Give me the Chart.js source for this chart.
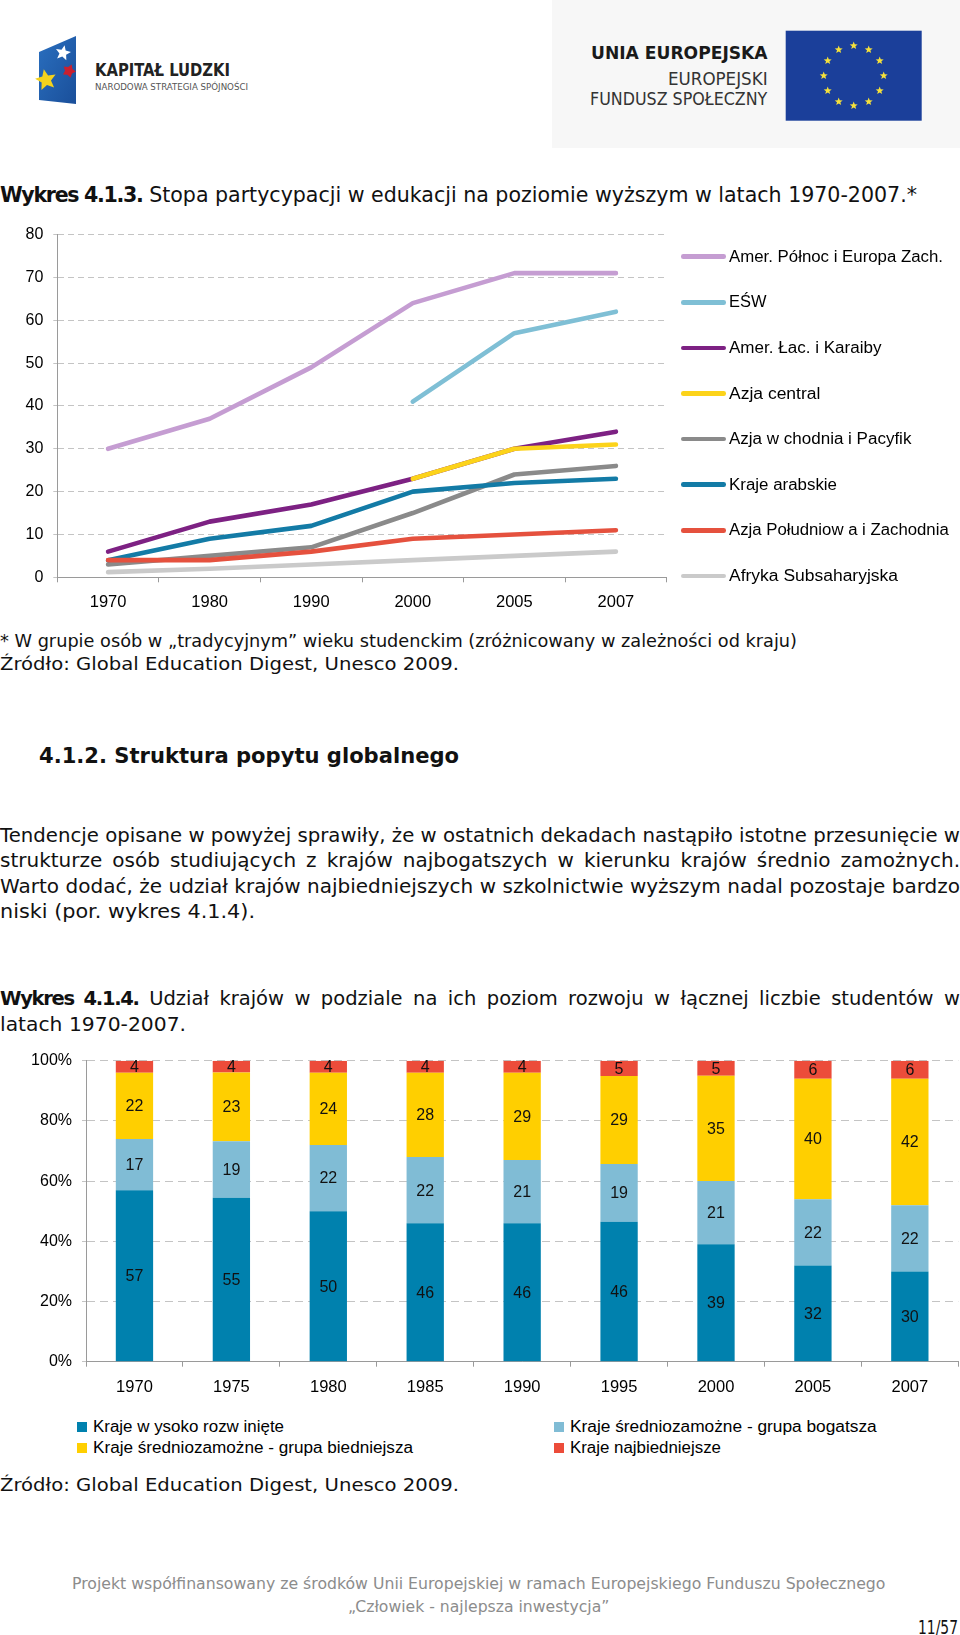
<!DOCTYPE html>
<html>
<head>
<meta charset="utf-8">
<script src="https://cdn.jsdelivr.net/npm/chart.js@4.4.1/dist/chart.umd.min.js"></script>
<style>
html,body{margin:0;padding:0;background:#fff;}
body{width:960px;height:1635px;position:relative;overflow:hidden;color:#111;}
.t{position:absolute;white-space:nowrap;font-family:"DejaVu Sans",sans-serif;}
.c{position:absolute;white-space:nowrap;font-family:"DejaVu Sans Condensed","DejaVu Sans",sans-serif;font-stretch:condensed;}
.a{position:absolute;white-space:nowrap;font-family:"Liberation Sans",Arial,sans-serif;}
b.n{letter-spacing:-1.3px;}
canvas{position:absolute;left:0;}
</style>
</head>
<body>
<svg id="logos" style="position:absolute;left:0;top:0" width="960" height="150"></svg>

<div class="c" data-w="135" style="left:95px;top:59px;line-height:22px;font-size:17px;font-weight:bold;color:#222;">KAPITAŁ LUDZKI</div>
<div class="c" data-w="153" style="left:95px;top:80px;line-height:14px;font-size:9.5px;color:#555;">NARODOWA STRATEGIA SPÓJNOŚCI</div>
<div class="c" data-w="176.6" style="left:590.7px;top:42px;line-height:22px;font-size:18px;font-weight:bold;color:#1a1a1a;">UNIA EUROPEJSKA</div>
<div class="c" data-w="99.6" style="left:667.7px;top:68px;line-height:22px;font-size:17px;color:#333;">EUROPEJSKI</div>
<div class="c" data-w="177.3" style="left:590px;top:88px;line-height:22px;font-size:17px;color:#333;">FUNDUSZ SPOŁECZNY</div>

<div class="t" data-w="917" style="left:0;top:183px;line-height:24px;font-size:20.5px;"><b class="n">Wykres 4.1.3.</b> Stopa partycypacji w edukacji na poziomie wyższym w latach 1970-2007.*</div>

<canvas id="c1" width="960" height="400" style="top:215px"></canvas>
<div id="leg1"></div>

<div class="t" data-w="797" style="left:0;top:630px;line-height:22px;font-size:17px;">* W grupie osób w „tradycyjnym” wieku studenckim (zróżnicowany w zależności od kraju)</div>
<div class="t" data-w="459" style="left:0;top:653px;line-height:22px;font-size:18px;">Źródło: Global Education Digest, Unesco 2009.</div>

<div class="t" data-w="420" style="left:38.6px;top:743px;line-height:26px;font-size:22px;font-weight:bold;">4.1.2. Struktura popytu globalnego</div>

<div class="t" data-w="960" data-j="1" style="left:0;top:823px;line-height:25px;font-size:20px;">Tendencje opisane w powyżej sprawiły, że w ostatnich dekadach nastąpiło istotne przesunięcie w</div>
<div class="t" data-w="960" data-j="1" style="left:0;top:848px;line-height:25px;font-size:20px;">strukturze osób studiujących z krajów najbogatszych w kierunku krajów średnio zamożnych.</div>
<div class="t" data-w="960" data-j="1" style="left:0;top:873.5px;line-height:25px;font-size:20px;">Warto dodać, że udział krajów najbiedniejszych w szkolnictwie wyższym nadal pozostaje bardzo</div>
<div class="t" data-w="255" style="left:0;top:899px;line-height:25px;font-size:20px;">niski (por. wykres 4.1.4).</div>

<div class="t" data-w="960" data-j="1" style="left:0;top:986px;line-height:25px;font-size:19.5px;"><b class="n">Wykres 4.1.4.</b> Udział krajów w podziale na ich poziom rozwoju w łącznej liczbie studentów w</div>
<div class="t" data-w="186" style="left:0;top:1012px;line-height:25px;font-size:19.5px;">latach 1970-2007.</div>

<canvas id="c2" width="960" height="370" style="top:1040px"></canvas>
<div id="leg2"></div>

<div class="t" data-w="459" style="left:0;top:1474px;line-height:22px;font-size:18px;">Źródło: Global Education Digest, Unesco 2009.</div>

<div class="t" data-w="813.4" style="left:72.2px;top:1574px;line-height:20px;font-size:15px;color:#8c8c8c;">Projekt współfinansowany ze środków Unii Europejskiej w ramach Europejskiego Funduszu Społecznego</div>
<div class="t" data-w="261.4" style="left:347.6px;top:1597px;line-height:20px;font-size:15px;color:#8c8c8c;">„Człowiek - najlepsza inwestycja”</div>
<div class="t" data-w="40" style="left:918px;top:1616px;line-height:22px;font-size:19px;">11/57</div>

<script>
// ---------- Chart 1 data ----------
const years1 = ['1970','1980','1990','2000','2005','2007'];
const amerPolnocEuropaZach = [30, 37, 49, 64, 71, 71];
const esw = [null, null, null, 41, 57, 62];
const amerLacKaraiby = [6, 13, 17, 23, 30, 34];
const azjaCentral = [null, null, null, 23, 30, 31];
const azjaWschPacyfik = [3, 5, 7, 15, 24, 26];
const krajeArabskie = [4, 9, 12, 20, 22, 23];
const azjaPoludZach = [4, 4, 6, 9, 10, 11];
const afrykaSubsah = [1.2, 2, 3, 4, 5, 6];
const lineLabels = ['Amer. Północ i Europa Zach.', 'EŚW', 'Amer. Łac. i Karaiby', 'Azja central',
  'Azja w chodnia i Pacyfik', 'Kraje arabskie', 'Azja Południow a i Zachodnia', 'Afryka Subsaharyjska'];
const lineSeries = [amerPolnocEuropaZach, esw, amerLacKaraiby, azjaCentral, azjaWschPacyfik, krajeArabskie, azjaPoludZach, afrykaSubsah];
const lineColors = ['#C59DD2', '#7FBFD5', '#7D2183', '#FCD31A', '#8A8A8A', '#137BA6', '#E5513E', '#CACACA'];

// ---------- Chart 2 data ----------
const years2 = ['1970','1975','1980','1985','1990','1995','2000','2005','2007'];
const wysokoRozwiniete = [57, 55, 50, 46, 46, 46, 39, 32, 30];
const sredniBogatsza = [17, 19, 22, 22, 21, 19, 21, 22, 22];
const sredniBiedniejsza = [22, 23, 24, 28, 29, 29, 35, 40, 42];
const najbiedniejsze = [4, 4, 4, 4, 4, 5, 5, 6, 6];
const barLabels = ['Kraje w ysoko rozw inięte', 'Kraje średniozamożne - grupa bogatsza',
  'Kraje średniozamożne - grupa biedniejsza', 'Kraje najbiedniejsze'];
const barSeries = [wysokoRozwiniete, sredniBogatsza, sredniBiedniejsza, najbiedniejsze];
const barColors = ['#0081AE', '#80BCD5', '#FFCF00', '#EC4C3A'];

Chart.defaults.font.family = '"Liberation Sans", Arial, sans-serif';
Chart.defaults.font.size = 16;
Chart.defaults.color = '#000';
Chart.defaults.animation = false;

// ---------- Chart 1 ----------
new Chart(document.getElementById('c1'), {
  type: 'line',
  data: {
    labels: years1,
    datasets: lineSeries.map((d, i) => ({
      label: lineLabels[i], data: d,
      borderColor: lineColors[i], backgroundColor: lineColors[i],
      borderWidth: 4.6, pointRadius: 0, pointHoverRadius: 0,
      borderCapStyle: 'round', borderJoinStyle: 'round', tension: 0, spanGaps: false,
      order: lineSeries.length - 1 - i
    }))
  },
  options: {
    responsive: false, animation: false,
    layout: { padding: { left: 0, right: 293.3, top: 17.3, bottom: 0 } },
    plugins: { legend: { display: false }, tooltip: { enabled: false } },
    scales: {
      x: {
        offset: true,
        grid: { offset: true, drawOnChartArea: false, tickLength: 5, color: '#9a9a9a' },
        border: { color: '#9a9a9a' },
        ticks: { padding: 10, font: { size: 16.5 }, maxRotation: 0, autoSkip: false },
        afterFit(s) { s.height = 37.7; }
      },
      y: {
        min: 0, max: 80,
        ticks: { stepSize: 10, padding: 10 },
        grid: { color: '#c4c4c4', tickLength: 4, tickBorderDash: [] },
        border: { color: '#9a9a9a', dash: [6, 4] },
        afterFit(s) { s.width = 57.3; }
      }
    }
  }
});

// legend 1 (HTML)
(function () {
  const box = document.getElementById('leg1');
  const rightEnds = [943.3, 766.7, 881.7, 820.7, 911.7, 837.3, 949, 898.3];
  lineLabels.forEach((lab, i) => {
    const cy = 256.7 + i * 45.6;
    const ln = document.createElement('div');
    ln.style.cssText = `position:absolute;left:680.7px;top:${cy - 2.3}px;width:45px;height:4.6px;border-radius:2.3px;background:${lineColors[i]};`;
    box.appendChild(ln);
    const tx = document.createElement('div');
    tx.className = 'a';
    tx.dataset.w = rightEnds[i] - 729.3;
    tx.style.cssText += `left:729.3px;top:${cy - 10}px;line-height:20px;font-size:16px;color:#000;`;
    tx.textContent = lab;
    box.appendChild(tx);
  });
})();

// ---------- Chart 2 ----------
const totals2 = years2.map((_, i) => barSeries.reduce((s, arr) => s + arr[i], 0));
const segLabelPlugin = {
  id: 'segLabels',
  afterDatasetsDraw(chart) {
    const ctx = chart.ctx;
    ctx.save();
    ctx.font = '16px "Liberation Sans", Arial, sans-serif';
    ctx.fillStyle = '#111';
    ctx.textAlign = 'center';
    ctx.textBaseline = 'middle';
    chart.data.datasets.forEach((ds, di) => {
      const meta = chart.getDatasetMeta(di);
      meta.data.forEach((el, i) => {
        ctx.fillText(String(barSeries[di][i]), el.x, (el.y + el.base) / 2 + 1);
      });
    });
    ctx.restore();
  }
};

new Chart(document.getElementById('c2'), {
  type: 'bar',
  data: {
    labels: years2,
    datasets: barSeries.map((d, i) => ({
      label: barLabels[i],
      data: d.map((v, j) => v / totals2[j] * 100),
      backgroundColor: barColors[i], borderWidth: 0,
      barPercentage: 0.385, categoryPercentage: 1
    }))
  },
  options: {
    responsive: false, animation: false,
    layout: { padding: { left: 0, right: 1.7, top: 20.7, bottom: 0 } },
    plugins: { legend: { display: false }, tooltip: { enabled: false } },
    scales: {
      x: {
        stacked: true,
        grid: { offset: true, drawOnChartArea: false, tickLength: 5, color: '#9a9a9a' },
        border: { color: '#9a9a9a' },
        ticks: { padding: 11, font: { size: 16.5 }, maxRotation: 0, autoSkip: false },
        afterFit(s) { s.height = 48.3; }
      },
      y: {
        stacked: true, min: 0, max: 100,
        ticks: { stepSize: 20, padding: 10, callback: v => v + '%' },
        grid: { color: '#c4c4c4', tickLength: 4, tickBorderDash: [] },
        border: { color: '#9a9a9a', dash: [8, 5] },
        afterFit(s) { s.width = 86; }
      }
    }
  },
  plugins: [segLabelPlugin]
});

// legend 2 (HTML)
(function () {
  const box = document.getElementById('leg2');
  const pos = [[77.3, 1427, 191], [554, 1427, 306.7], [77.3, 1448, 320], [554, 1448, 151]];
  barLabels.forEach((lab, i) => {
    const [x, cy, w] = pos[i];
    const sq = document.createElement('div');
    sq.style.cssText = `position:absolute;left:${x}px;top:${cy - 5}px;width:10px;height:10px;background:${barColors[i]};`;
    box.appendChild(sq);
    const tx = document.createElement('div');
    tx.className = 'a';
    tx.dataset.w = w;
    tx.style.cssText += `left:${x + 16}px;top:${cy - 10}px;line-height:20px;font-size:16px;color:#000;`;
    tx.textContent = lab;
    box.appendChild(tx);
  });
})();

// ---------- logos ----------
(function () {
  const svg = document.getElementById('logos');
  const NS = 'http://www.w3.org/2000/svg';
  function el(name, attrs) { const e = document.createElementNS(NS, name); for (const k in attrs) e.setAttribute(k, attrs[k]); svg.appendChild(e); return e; }
  function star(cx, cy, R, r, rot) {
    const p = [];
    for (let k = 0; k < 10; k++) {
      const a = rot + k * Math.PI / 5 - Math.PI / 2;
      const rr = k % 2 ? r : R;
      p.push((cx + rr * Math.cos(a)).toFixed(2) + ',' + (cy + rr * Math.sin(a)).toFixed(2));
    }
    return p.join(' ');
  }
  el('rect', { x: 552, y: 0, width: 408, height: 148, fill: '#f7f7f7' });
  const grad = el('defs', {});
  grad.innerHTML = '<linearGradient id="kg" x1="0" y1="0" x2="1" y2="1"><stop offset="0" stop-color="#2a6fbf"/><stop offset="1" stop-color="#1a4f9a"/></linearGradient>';
  el('polygon', { points: '39,52 76,36 76,104 39,100', fill: 'url(#kg)' });
  el('polygon', { points: star(63, 53, 8, 3.6, 0.2), fill: '#ffffff' });
  el('polygon', { points: star(69, 71, 7, 4, 0.4), fill: '#c8202f' });
  el('polygon', { points: star(46, 80, 11, 5, -0.2), fill: '#f4d21c' });
  el('rect', { x: 785.7, y: 30.7, width: 136, height: 90, fill: '#1B3F9A' });
  for (let k = 0; k < 12; k++) {
    const a = k * Math.PI / 6;
    el('polygon', { points: star(853.7 + 30 * Math.sin(a), 75.7 - 30 * Math.cos(a), 4.2, 1.8, 0), fill: '#F5E03A' });
  }
})();

// ---------- fit text widths ----------
document.querySelectorAll('[data-w]').forEach(e => {
  const w = parseFloat(e.dataset.w);
  const nat = e.getBoundingClientRect().width;
  const spaces = (e.textContent.match(/ /g) || []).length;
  if (e.dataset.j && nat < w && spaces) {
    e.style.wordSpacing = ((w - nat) / spaces) + 'px';
  } else if (nat > 0) {
    e.style.transformOrigin = '0 50%';
    e.style.transform = 'scaleX(' + (w / nat) + ')';
  }
});
</script>
</body>
</html>
